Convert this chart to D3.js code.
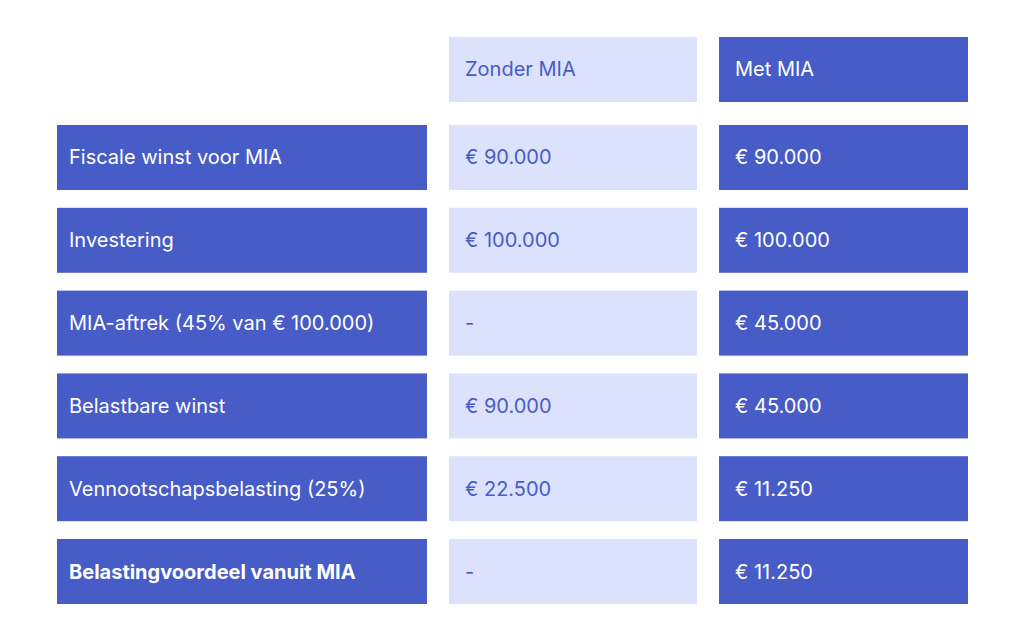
<!DOCTYPE html><html><head><meta charset="utf-8"><script src="https://cdn.jsdelivr.net/npm/d3@7"></script>
<style>body{margin:0;background:#fff}</style></head><body><svg id="c" width="1024" height="638"></svg>
<script>
const headers=["Zonder MIA","Met MIA"];
const rows=["Fiscale winst voor MIA","Investering","MIA-aftrek (45% van € 100.000)","Belastbare winst","Vennootschapsbelasting (25%)","Belastingvoordeel vanuit MIA"];
const zonder=["€ 90.000","€ 100.000","-","€ 90.000","€ 22.500","-"];
const met=["€ 90.000","€ 100.000","€ 45.000","€ 45.000","€ 11.250","€ 11.250"];
const dark="#475cc7",light="#dce1fc";
const svg=d3.select("#c");
const x=d3.scaleOrdinal().domain(["label","zonder","met"]).range([57,449,719]);
const w={label:370,zonder:248,met:249};
const y=d3.scaleBand().domain(rows).range([125,604]).paddingInner(0.215);
const h=y.bandwidth();
const font="'Inter','Noto Sans',sans-serif";
function cell(col,yy,txt,fill,tc,bold){
  svg.append("rect").attr("x",x(col)).attr("y",yy).attr("width",w[col]).attr("height",h).attr("fill",fill);
  svg.append("text").attr("x",x(col)+(col==="label"?12:16)).attr("y",yy+h/2).attr("dy","0.35em")
    .attr("fill",tc).attr("font-family",font).attr("font-size",20).attr("font-weight",bold?700:400).text(txt);
}
cell("zonder",37,headers[0],light,dark);
cell("met",37,headers[1],dark,"#fff");
rows.forEach((r,i)=>{
  cell("label",y(r),r,dark,"#fff",i===rows.length-1);
  cell("zonder",y(r),zonder[i],light,dark);
  cell("met",y(r),met[i],dark,"#fff");
});
</script></body></html>
